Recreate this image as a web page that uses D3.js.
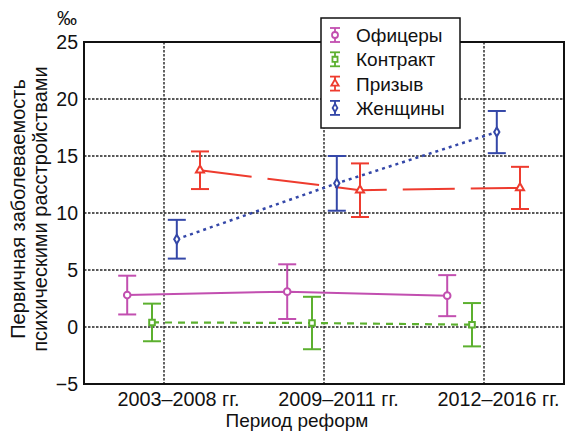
<!DOCTYPE html>
<html>
<head>
<meta charset="utf-8">
<script src="https://cdn.jsdelivr.net/npm/d3@7"></script>
<style>
  html, body { margin: 0; padding: 0; background: #fff; }
  svg { display: block; font-family: "Liberation Sans", Arial, sans-serif; }
</style>
</head>
<body>
<svg id="chart" width="566" height="432"></svg>
<script>
// Reform periods (x categories)
const periods = ["2003–2008", "2009–2011", "2012–2016"];
const periodSuffix = " гг.";
const yTicks = [-5, 0, 5, 10, 15, 20, 25];

// Incidence, per mille, with half-width of the confidence interval
const seriesNames = ["Офицеры", "Контракт", "Призыв", "Женщины"];
const officers      = [2.8, 3.1, 2.75];
const officersErr   = [1.7, 2.4, 1.8];
const contract      = [0.4, 0.35, 0.2];
const contractErr   = [1.65, 2.3, 1.9];
const conscripts    = [13.75, 12.0, 12.2];
const conscriptsErr = [1.65, 2.35, 1.85];
const women         = [7.7, 12.6, 17.1];
const womenErr      = [1.7, 2.4, 1.85];

const series = [
  { name: seriesNames[0], values: officers,   err: officersErr,   color: "#c24fb0", dash: null,     width: 2,   marker: "circle",   offset: -0.23 },
  { name: seriesNames[1], values: contract,   err: contractErr,   color: "#5cb02f", dash: "7,6",    width: 2.2, marker: "square",   offset: -0.075 },
  { name: seriesNames[2], values: conscripts, err: conscriptsErr, color: "#ee3b2e", dash: "52,16",  width: 2,   marker: "triangle", offset: 0.225 },
  { name: seriesNames[3], values: women,      err: womenErr,      color: "#3447a8", dash: "3,4",    width: 2.5, marker: "diamond",  offset: 0.08 }
];

const svg = d3.select("#chart");
const plotL = 84, plotR = 564, plotT = 42, plotB = 384;

const x = d3.scaleLinear().domain([0.5, 3.5]).range([plotL, plotR]);
const y = d3.scaleLinear().domain([-5, 25]).range([plotB, plotT]);

// Grid
const grid = svg.append("g").attr("stroke", "#222").attr("stroke-width", 1.4)
  .attr("stroke-dasharray", "2.5,1.5");
grid.selectAll("line.h").data(yTicks.slice(1, -1)).join("line")
  .attr("x1", plotL).attr("x2", plotR)
  .attr("y1", d => y(d)).attr("y2", d => y(d));
grid.selectAll("line.v").data(periods).join("line")
  .attr("x1", (d, i) => x(i + 1)).attr("x2", (d, i) => x(i + 1))
  .attr("y1", plotT).attr("y2", plotB);

// Axes
const yAxis = d3.axisLeft(y).tickValues(yTicks).tickSize(0).tickPadding(6);
const gy = svg.append("g").attr("transform", `translate(${plotL},0)`).call(yAxis);
gy.select(".domain").remove();
gy.selectAll("text").attr("font-size", 19.5).attr("fill", "#111")
  .attr("font-family", "Liberation Sans, Arial, sans-serif");

const xAxis = d3.axisBottom(x).tickValues([1, 2, 3]).tickSize(0).tickPadding(8)
  .tickFormat((d, i) => periods[i] + periodSuffix);
const gx = svg.append("g").attr("transform", `translate(0,${plotB})`).call(xAxis);
gx.select(".domain").remove();
gx.selectAll("text").attr("font-size", 19.8).attr("fill", "#111")
  .attr("font-family", "Liberation Sans, Arial, sans-serif")
  .attr("dx", 14);

// Series lines
const line = d3.line().x(d => x(d.i + 1 + d.off)).y(d => y(d.v));
series.forEach(s => {
  const pts = s.values.map((v, i) => ({ v, i, off: s.offset }));
  svg.append("path").datum(pts)
    .attr("d", line).attr("fill", "none")
    .attr("stroke", s.color).attr("stroke-width", s.width)
    .attr("stroke-dasharray", s.dash);
});

// Markers
function markerPath(type, r) {
  if (type === "circle") return d3.symbol(d3.symbolCircle, Math.PI * r * r)();
  if (type === "square") return d3.symbol(d3.symbolSquare, (r * 1.7) * (r * 1.7))();
  if (type === "triangle") return d3.symbol(d3.symbolTriangle, r * r * 2.6)();
  return d3.symbol(d3.symbolDiamond, r * r * 2.2)();
}

// Error bars
series.forEach(s => {
  const g = svg.append("g").attr("stroke", s.color).attr("stroke-width", 2).attr("fill", "#fff");
  s.values.forEach((v, i) => {
    const cx = x(i + 1 + s.offset);
    const y0 = y(v - s.err[i]), y1 = y(v + s.err[i]);
    g.append("line").attr("x1", cx).attr("x2", cx).attr("y1", y0).attr("y2", y1);
    g.append("line").attr("x1", cx - 9).attr("x2", cx + 9).attr("y1", y0).attr("y2", y0);
    g.append("line").attr("x1", cx - 9).attr("x2", cx + 9).attr("y1", y1).attr("y2", y1);
    g.append("path").attr("d", markerPath(s.marker, 3.3))
      .attr("transform", `translate(${cx},${y(v)})`);
  });
});

// Plot frame
svg.append("rect").attr("x", plotL).attr("y", plotT)
  .attr("width", plotR - plotL).attr("height", plotB - plotT)
  .attr("fill", "none").attr("stroke", "#111").attr("stroke-width", 2);

// Axis titles
svg.append("text").attr("x", 67).attr("y", 25).attr("text-anchor", "middle")
  .attr("font-size", 20).attr("fill", "#111").text("‰");
svg.append("text").attr("x", 297).attr("y", 427).attr("text-anchor", "middle")
  .attr("font-size", 19).attr("fill", "#111").text("Период реформ");
const yt = svg.append("text").attr("transform", `translate(0,${(plotT + plotB) / 2 - 4}) rotate(-90)`)
  .attr("text-anchor", "middle").attr("font-size", 20).attr("fill", "#111");
yt.append("tspan").attr("x", 0).attr("y", 25).text("Первичная заболеваемость");
yt.append("tspan").attr("x", 0).attr("y", 47).text("психическими расстройствами");

// Legend
const lg = svg.append("g").attr("transform", "translate(321,18)");
lg.append("rect").attr("width", 139).attr("height", 110)
  .attr("fill", "#fff").attr("stroke", "#111").attr("stroke-width", 1.5);
series.forEach((s, i) => {
  const cy = 17 + i * 24.3;
  const g = lg.append("g").attr("transform", `translate(14,${cy})`)
    .attr("stroke", s.color).attr("stroke-width", 1.8).attr("fill", "#fff");
  g.append("line").attr("y1", -7).attr("y2", 7);
  g.append("line").attr("x1", -5).attr("x2", 5).attr("y1", -7).attr("y2", -7);
  g.append("line").attr("x1", -5).attr("x2", 5).attr("y1", 7).attr("y2", 7);
  g.append("path").attr("d", markerPath(s.marker, 3));
  lg.append("text").attr("x", 35).attr("y", cy + 7).attr("font-size", 19)
    .attr("fill", "#111").text(s.name);
});
</script>
</body>
</html>
